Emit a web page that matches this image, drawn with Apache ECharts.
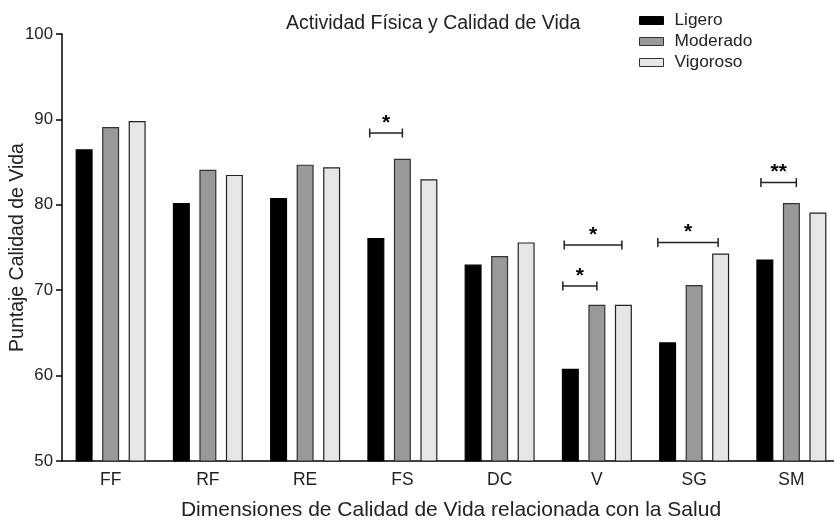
<!DOCTYPE html>
<html>
<head>
<meta charset="utf-8">
<script src="https://cdn.jsdelivr.net/npm/echarts@6/dist/echarts.min.js"></script>
<style>html,body{margin:0;padding:0;background:#fff;}#c{width:834px;height:522px;}</style>
</head>
<body>
<div id="c"></div>
<script>
const categories = ['FF','RF','RE','FS','DC','V','SG','SM'];
const ligero   = [86.5, 80.2, 80.8, 76.1, 73.0, 60.8, 63.9, 73.6];
const moderado = [89.1, 84.1, 84.7, 85.4, 74.0, 68.3, 70.6, 80.2];
const vigoroso = [89.8, 83.5, 84.4, 83.0, 75.6, 68.3, 74.3, 79.1];
// significance brackets: [category index, y value, start offset, end offset, label]
const brackets = [
  [3, 88.4, -0.336, 0.0, '*'],
  [5, 75.3, -0.336, 0.257, '*'],
  [5, 70.5, -0.35, 0.0, '*'],
  [6, 75.6, -0.373, 0.247, '*'],
  [7, 82.6, -0.313, 0.051, '**']
];
const yTicks = {min: 50, max: 100, interval: 10};

const FONT = 'Liberation Sans, Arial, sans-serif';
const chart = echarts.init(document.getElementById('c'), null, {renderer: 'canvas'});

function barSeries(name, data, color, border) {
  return {
    name: name, type: 'bar', data: data,
    barWidth: 17, barGap: '56%',
    itemStyle: {color: color, borderColor: border, borderWidth: 1.2},
    emphasis: {disabled: true},
    animation: false
  };
}

chart.setOption({
  animation: false,
  title: {
    text: 'Actividad Física y Calidad de Vida',
    left: 281, top: 9,
    textStyle: {fontFamily: FONT, fontSize: 19.5, fontWeight: 'normal', color: '#222'}
  },
  legend: {
    orient: 'vertical', left: 634, top: 7,
    itemWidth: 24, itemHeight: 8, itemGap: 4,
    textStyle: {fontFamily: FONT, fontSize: 17.3, color: '#222', padding: [0,0,0,6]},
    data: [
      {name: 'Ligero', icon: 'rect', itemStyle: {color: '#000', borderColor: '#000', borderWidth: 1}},
      {name: 'Moderado', icon: 'rect', itemStyle: {color: '#999', borderColor: '#333', borderWidth: 1}},
      {name: 'Vigoroso', icon: 'rect', itemStyle: {color: '#e6e6e6', borderColor: '#333', borderWidth: 1}}
    ],
    selectedMode: false
  },
  grid: {left: 62, top: 34, width: 778, height: 427, containLabel: false, outerBoundsMode: 'none'},
  xAxis: {
    type: 'category', data: categories,
    axisLine: {lineStyle: {color: '#000', width: 1.5}},
    axisTick: {alignWithLabel: true, length: 6, lineStyle: {color: '#000', width: 1.5}},
    axisLabel: {fontFamily: FONT, fontSize: 17.5, color: '#222', margin: 10},
    name: 'Dimensiones de Calidad de Vida relacionada con la Salud',
    nameLocation: 'middle', nameGap: 39, nameMoveOverlap: false,
    nameTextStyle: {fontFamily: FONT, fontSize: 21, color: '#222'}
  },
  yAxis: {
    type: 'value', min: yTicks.min, max: yTicks.max, interval: yTicks.interval,
    axisLine: {show: true, lineStyle: {color: '#000', width: 1.5}},
    axisTick: {show: true, length: 6, lineStyle: {color: '#000', width: 1.5}},
    splitLine: {show: false},
    axisLabel: {fontFamily: FONT, fontSize: 16.8, color: '#222', margin: 9},
    name: 'Puntaje Calidad de Vida',
    nameLocation: 'middle', nameGap: 34, nameRotate: 90, nameMoveOverlap: false,
    nameTextStyle: {fontFamily: FONT, fontSize: 19.5, color: '#222'}
  },
  series: [
    barSeries('Ligero', ligero, '#000', '#000'),
    barSeries('Moderado', moderado, '#999', '#333'),
    barSeries('Vigoroso', vigoroso, '#e6e6e6', '#222'),
    {
      type: 'custom', data: brackets, silent: true, z: 10,
      encode: {x: 0, y: 1},
      renderItem: function (params, api) {
        const c = api.coord([api.value(0), api.value(1)]);
        const bw = api.size([1, 0])[0];
        const x1 = c[0] + api.value(2) * bw;
        const x2 = c[0] + api.value(3) * bw;
        const y = c[1];
        const label = brackets[params.dataIndex][4];
        const st = {stroke: '#222', lineWidth: 1.5};
        return {
          type: 'group',
          children: [
            {type: 'line', shape: {x1: x1, y1: y, x2: x2, y2: y}, style: st},
            {type: 'line', shape: {x1: x1, y1: y - 4.5, x2: x1, y2: y + 4.5}, style: st},
            {type: 'line', shape: {x1: x2, y1: y - 4.5, x2: x2, y2: y + 4.5}, style: st},
            {type: 'text', x: (x1 + x2) / 2, y: y - 10,
             style: {text: label, fill: '#000', font: 'bold 21px ' + FONT, align: 'center', verticalAlign: 'middle'}}
          ]
        };
      }
    }
  ]
});
</script>
</body>
</html>
